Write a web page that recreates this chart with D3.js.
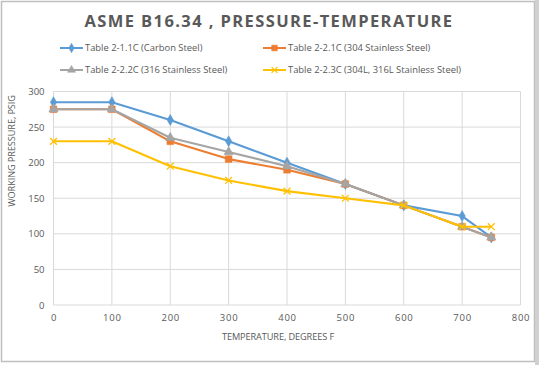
<!DOCTYPE html>
<html><head><meta charset="utf-8">
<script src="https://cdn.jsdelivr.net/npm/d3@7"></script>
<style>body{margin:0;background:#fff}svg{display:block}</style>
</head><body><svg id="c" width="539" height="365"></svg>
<script>
const temps = [0, 100, 200, 300, 400, 500, 600, 700, 750];
const carbon = [285, 285, 260, 230, 200, 170, 140, 125, 95];
const ss304 = [275, 275, 230, 205, 190, 170, 140, 110, 95];
const ss316 = [275, 275, 235, 215, 195, 170, 140, 110, 95];
const ssL = [230, 230, 195, 175, 160, 150, 140, 110, 110];
const seriesNames = ["Table 2-1.1C (Carbon Steel)", "Table 2-2.1C (304 Stainless Steel)", "Table 2-2.2C (316 Stainless Steel)", "Table 2-2.3C (304L, 316L Stainless Steel)"];
const xTicks = [0, 100, 200, 300, 400, 500, 600, 700, 800];
const yTicks = [0, 50, 100, 150, 200, 250, 300];
const colors = ["#5b9bd5", "#ed7d31", "#a5a5a5", "#ffc000"];
const markers = ["diamond", "square", "triangle", "x"];
const series = [carbon, ss304, ss316, ssL].map((v, i) => ({name: seriesNames[i], values: v, color: colors[i], marker: markers[i]}));

const svg = d3.select("#c");
const font = "'Open Sans', 'Liberation Sans', sans-serif";
const txt = "#595959";

svg.append("rect").attr("x", 1.5).attr("y", 1.5).attr("width", 533).attr("height", 360)
  .attr("fill", "#fff").attr("stroke", "#bfbfbf").attr("stroke-width", 1.5);
svg.append("rect").attr("x", 535).attr("y", 0).attr("width", 4).attr("height", 365).attr("fill", "#d0d0d0");

const x = d3.scaleLinear().domain([0, 800]).range([53.5, 520.5]);
const y = d3.scaleLinear().domain([0, 300]).range([305, 91.5]);

// grid
const g = svg.append("g");
g.selectAll(".hg").data(yTicks).join("line")
  .attr("x1", x(0)).attr("x2", x(800)).attr("y1", d => y(d)).attr("y2", d => y(d))
  .attr("stroke", "#d9d9d9").attr("stroke-width", 1);
g.selectAll(".vg").data(xTicks).join("line")
  .attr("y1", y(0)).attr("y2", y(300)).attr("x1", d => x(d)).attr("x2", d => x(d))
  .attr("stroke", "#d9d9d9").attr("stroke-width", 1);

// axes (labels only)
const xAxis = svg.append("g").attr("transform", `translate(0,${y(0)})`)
  .call(d3.axisBottom(x).tickValues(xTicks).tickSize(0).tickPadding(9));
xAxis.select(".domain").remove();
xAxis.selectAll("text").attr("font-family", font).attr("font-size", 9.5).attr("fill", txt).attr("letter-spacing", 0.8);
const yAxis = svg.append("g").attr("transform", `translate(${x(0)},0)`)
  .call(d3.axisLeft(y).tickValues(yTicks).tickSize(0).tickPadding(9));
yAxis.select(".domain").remove();
yAxis.selectAll("text").attr("font-family", font).attr("font-size", 9.5).attr("fill", txt);

// title
svg.append("text").attr("x", 269).attr("y", 27).attr("text-anchor", "middle")
  .attr("font-family", font).attr("font-weight", "bold").attr("font-size", 16.5)
  .attr("letter-spacing", 1.4).attr("fill", txt).text("ASME B16.34 , PRESSURE-TEMPERATURE");

// axis titles
svg.append("text").attr("x", 278).attr("y", 340).attr("text-anchor", "middle")
  .attr("font-family", font).attr("font-size", 9.2).attr("fill", txt).attr("letter-spacing", -0.1)
  .text("TEMPERATURE, DEGREES F");
svg.append("text").attr("transform", "translate(15,151) rotate(-90)").attr("text-anchor", "middle")
  .attr("font-family", font).attr("font-size", 9.2).attr("fill", txt).attr("letter-spacing", -0.1)
  .text("WORKING PRESSURE, PSIG");

function drawMarker(sel, type, color, size) {
  if (type === "x") {
    const s = size * 0.85;
    sel.append("path").attr("d", `M${-s},${-s}L${s},${s}M${-s},${s}L${s},${-s}`)
      .attr("stroke", color).attr("stroke-width", 1.3).attr("fill", "none");
  } else {
    const sym = type === "diamond" ? d3.symbolDiamond : type === "square" ? d3.symbolSquare : d3.symbolTriangle;
    const base = type === "diamond" ? 2.2 : type === "square" ? 2.8 : 2.4;
    sel.append("path").attr("d", d3.symbol().type(sym).size(base * size * size)()).attr("fill", color).attr("stroke", color).attr("stroke-width", 0.5);
  }
}

const line = d3.line().x((d, i) => x(temps[i])).y(d => y(d));
series.forEach(s => {
  const sg = svg.append("g");
  sg.append("path").datum(s.values).attr("d", line).attr("fill", "none")
    .attr("stroke", s.color).attr("stroke-width", 2.1).attr("stroke-linejoin", "round");
  sg.selectAll("g.m").data(s.values).join("g").attr("class", "m")
    .attr("transform", (d, i) => `translate(${x(temps[i])},${y(d)})`)
    .each(function() { drawMarker(d3.select(this), s.marker, s.color, 4); });
});

// legend
const legPos = [[60, 48], [263, 48], [60, 70], [263, 70]];
series.forEach((s, i) => {
  const [lx, ly] = legPos[i];
  const lg = svg.append("g").attr("transform", `translate(${lx},${ly})`);
  lg.append("line").attr("x1", 0).attr("x2", 23).attr("y1", 0).attr("y2", 0).attr("stroke", s.color).attr("stroke-width", 2);
  const mg = lg.append("g").attr("transform", "translate(11.5,0)");
  drawMarker(mg, s.marker, s.color, 3.4);
  lg.append("text").attr("x", 25).attr("y", 3.4).attr("font-family", font).attr("font-size", 9.4)
    .attr("fill", txt).attr("letter-spacing", 0).text(s.name);
});
</script></body></html>
